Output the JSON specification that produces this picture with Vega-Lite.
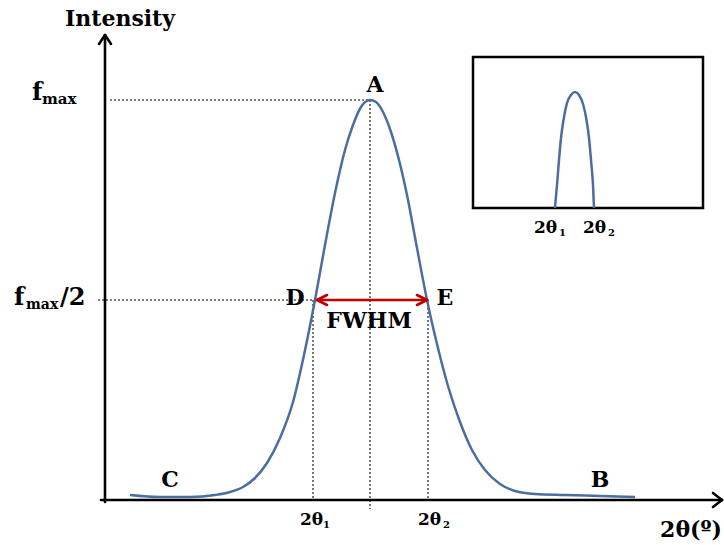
{
  "$schema": "https://vega.github.io/schema/vega-lite/v6.json",
  "width": 724,
  "height": 545,
  "autosize": {"type": "fit", "contains": "padding"},
  "padding": 0,
  "background": "white",
  "config": {"view": {"stroke": null}},
  "datasets": {
    "peak": [
      {"x": 25, "y": 5}, {"x": 55, "y": 3}, {"x": 85, "y": 3}, {"x": 110, "y": 5},
      {"x": 125, "y": 8}, {"x": 138, "y": 13}, {"x": 150, "y": 22}, {"x": 162, "y": 37},
      {"x": 175, "y": 62}, {"x": 188, "y": 98}, {"x": 199, "y": 145}, {"x": 210, "y": 200},
      {"x": 220, "y": 255}, {"x": 230, "y": 307}, {"x": 240, "y": 350}, {"x": 248, "y": 375},
      {"x": 256, "y": 393}, {"x": 265, "y": 400}, {"x": 271, "y": 398}, {"x": 278, "y": 388},
      {"x": 286, "y": 368}, {"x": 294, "y": 340}, {"x": 302, "y": 305}, {"x": 312, "y": 252},
      {"x": 322, "y": 200}, {"x": 332, "y": 156}, {"x": 343, "y": 114}, {"x": 355, "y": 78},
      {"x": 367, "y": 50}, {"x": 380, "y": 30}, {"x": 395, "y": 16}, {"x": 410, "y": 9},
      {"x": 430, "y": 6}, {"x": 460, "y": 5}, {"x": 495, "y": 4}, {"x": 530, "y": 3}
    ],
    "insetPeak": [
      {"x": 450, "y": 292}, {"x": 452, "y": 315}, {"x": 454, "y": 340}, {"x": 456, "y": 362},
      {"x": 459, "y": 383}, {"x": 462, "y": 397}, {"x": 466, "y": 405}, {"x": 470, "y": 408},
      {"x": 474, "y": 405}, {"x": 478, "y": 396}, {"x": 481, "y": 383}, {"x": 484, "y": 362},
      {"x": 486, "y": 340}, {"x": 488, "y": 315}, {"x": 489, "y": 292}
    ],
    "axes": [
      {"x": 0, "y": -2, "x2": 0, "y2": 465},
      {"x": -4, "y": 0, "x2": 617, "y2": 0},
      {"x": 0, "y": 465, "x2": -6, "y2": 456},
      {"x": 0, "y": 465, "x2": 6, "y2": 456},
      {"x": 617, "y": 0, "x2": 608, "y2": 7},
      {"x": 617, "y": 0, "x2": 608, "y2": -7}
    ],
    "guides": [
      {"x": 5, "y": 400, "x2": 265, "y2": 400},
      {"x": -7, "y": 200, "x2": 210, "y2": 200},
      {"x": 265, "y": 400, "x2": 265, "y2": -9},
      {"x": 208, "y": 200, "x2": 208, "y2": 0},
      {"x": 323, "y": 200, "x2": 323, "y2": 0}
    ],
    "fwhm": [
      {"x": 212, "y": 200, "x2": 322, "y2": 200},
      {"x": 212, "y": 200, "x2": 222, "y2": 205},
      {"x": 212, "y": 200, "x2": 222, "y2": 195},
      {"x": 322, "y": 200, "x2": 312, "y2": 205},
      {"x": 322, "y": 200, "x2": 312, "y2": 195}
    ],
    "box": [{"x": 368, "y": 292, "x2": 598, "y2": 443}],
    "labels": [
      {"x": 15, "y": 474, "t": "Intensity"},
      {"x": 270, "y": 408, "t": "A"},
      {"x": 190, "y": 195, "t": "D"},
      {"x": 340, "y": 195, "t": "E"},
      {"x": 264, "y": 172, "t": "FWHM"},
      {"x": 65, "y": 13, "t": "C"},
      {"x": 495, "y": 13, "t": "B"},
      {"x": 586, "y": -37, "t": "2θ(º)"}
    ],
    "fLetter": [
      {"x": -73, "y": 400, "t": "f"},
      {"x": -91, "y": 195, "t": "f"},
      {"x": -45, "y": 195, "t": "/2"}
    ],
    "fSubTop": [
      {"x": -63, "y": 396, "t": "max"}
    ],
    "fSubHalf": [
      {"x": -79, "y": 191, "t": "max"}
    ],
    "theta": [
      {"x": 195, "y": -25, "t": "2θ"},
      {"x": 313, "y": -25, "t": "2θ"},
      {"x": 429, "y": 267, "t": "2θ"},
      {"x": 478, "y": 267, "t": "2θ"}
    ],
    "thetaSub": [
      {"x": 218, "y": -28, "t": "1"},
      {"x": 338, "y": -28, "t": "2"},
      {"x": 454, "y": 264, "t": "1"},
      {"x": 503, "y": 264, "t": "2"}
    ]
  },
  "encoding": {
    "x": {"field": "x", "type": "quantitative", "axis": null,
          "scale": {"domain": [-105, 619], "nice": false, "zero": false}},
    "y": {"field": "y", "type": "quantitative", "axis": null,
          "scale": {"domain": [-45, 500], "nice": false, "zero": false}}
  },
  "layer": [
    {
      "data": {"name": "guides"},
      "mark": {"type": "rule", "color": "#555555", "strokeWidth": 1.6, "strokeDash": [2, 2]},
      "encoding": {"x2": {"field": "x2"}, "y2": {"field": "y2"}}
    },
    {
      "data": {"name": "box"},
      "mark": {"type": "rect", "fillOpacity": 0, "stroke": "black", "strokeWidth": 2.5},
      "encoding": {"x2": {"field": "x2"}, "y2": {"field": "y2"}}
    },
    {
      "data": {"name": "insetPeak"},
      "mark": {"type": "line", "color": "#4a6e9f", "strokeWidth": 2.5, "interpolate": "monotone"},
      "encoding": {}
    },
    {
      "data": {"name": "peak"},
      "mark": {"type": "line", "color": "#4a6e9f", "strokeWidth": 2.5, "interpolate": "monotone"},
      "encoding": {}
    },
    {
      "data": {"name": "axes"},
      "mark": {"type": "rule", "color": "black", "strokeWidth": 2.6, "strokeCap": "round"},
      "encoding": {"x2": {"field": "x2"}, "y2": {"field": "y2"}}
    },
    {
      "data": {"name": "fwhm"},
      "mark": {"type": "rule", "color": "#c00000", "strokeWidth": 2.6, "strokeCap": "round"},
      "encoding": {"x2": {"field": "x2"}, "y2": {"field": "y2"}}
    },
    {
      "data": {"name": "labels"},
      "mark": {"type": "text", "font": "DejaVu Serif", "fontWeight": "bold", "fontSize": 22,
               "align": "center", "baseline": "alphabetic", "color": "black"},
      "encoding": {"text": {"field": "t"}}
    },
    {
      "data": {"name": "fLetter"},
      "mark": {"type": "text", "font": "DejaVu Serif", "fontWeight": "bold", "fontSize": 24,
               "align": "left", "baseline": "alphabetic", "color": "black"},
      "encoding": {"text": {"field": "t"}}
    },
    {
      "data": {"name": "fSubTop"},
      "mark": {"type": "text", "font": "DejaVu Serif", "fontWeight": "bold", "fontSize": 15,
               "align": "left", "baseline": "alphabetic", "color": "black"},
      "encoding": {"text": {"field": "t"}}
    },
    {
      "data": {"name": "fSubHalf"},
      "mark": {"type": "text", "font": "DejaVu Serif", "fontWeight": "bold", "fontSize": 14,
               "align": "left", "baseline": "alphabetic", "color": "black"},
      "encoding": {"text": {"field": "t"}}
    },
    {
      "data": {"name": "theta"},
      "mark": {"type": "text", "font": "DejaVu Serif", "fontWeight": "bold", "fontSize": 17,
               "align": "left", "baseline": "alphabetic", "color": "black"},
      "encoding": {"text": {"field": "t"}}
    },
    {
      "data": {"name": "thetaSub"},
      "mark": {"type": "text", "font": "DejaVu Serif", "fontWeight": "bold", "fontSize": 10,
               "align": "left", "baseline": "alphabetic", "color": "black"},
      "encoding": {"text": {"field": "t"}}
    }
  ]
}
